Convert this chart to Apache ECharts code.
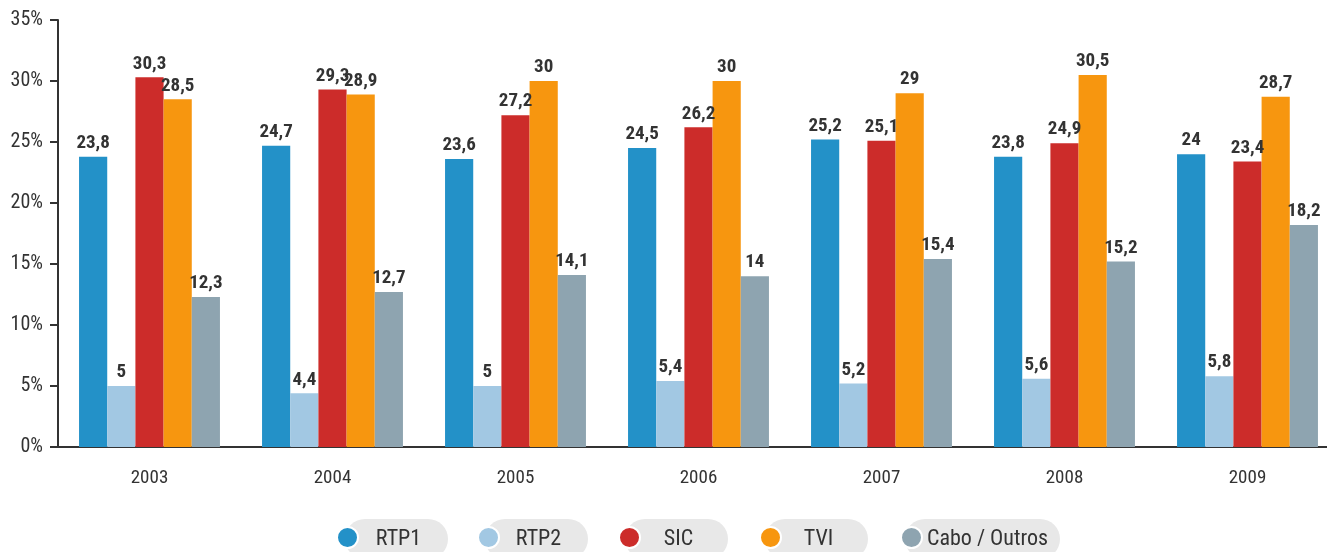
<!DOCTYPE html>
<html>
<head>
<meta charset="utf-8">
<script src="https://cdn.jsdelivr.net/npm/echarts@6/dist/echarts.min.js"></script>
<style>
  html, body { margin: 0; padding: 0; background: #fff; overflow: hidden; }
  /* slightly wider than the window: the x axis runs past the right edge */
  #main { width: 1339px; height: 552px; }
</style>
</head>
<body>
<div id="main"></div>
<script>
// audiencias por canal, % share
const anos = ['2003', '2004', '2005', '2006', '2007', '2008', '2009'];
const canais = ['RTP1', 'RTP2', 'SIC', 'TVI', 'Cabo / Outros'];
const rtp1 = [23.8, 24.7, 23.6, 24.5, 25.2, 23.8, 24];
const rtp2 = [5, 4.4, 5, 5.4, 5.2, 5.6, 5.8];
const sic = [30.3, 29.3, 27.2, 26.2, 25.1, 24.9, 23.4];
const tvi = [28.5, 28.9, 30, 30, 29, 30.5, 28.7];
const cabo = [12.3, 12.7, 14.1, 14, 15.4, 15.2, 18.2];
const yTicks = [0, 5, 10, 15, 20, 25, 30, 35];

const cores = ['#2391c8', '#a2c8e3', '#cc2c2a', '#f7960f', '#8ea4b0'];
const fonte = '"Roboto Condensed", "Open Sans", sans-serif';
const valores = [rtp1, rtp2, sic, tvi, cabo];

let myChart = echarts.init(document.getElementById('main'));

let series = [];
for (let i = 0; i < canais.length; i++) {
    series.push({
        name: canais[i],
        type: 'bar',
        data: valores[i],
        barGap: '0%',
        barCategoryGap: '23%',
        itemStyle: { color: cores[i] },
        label: {
            show: true,
            position: 'top',
            distance: 4,
            fontFamily: fonte,
            fontWeight: 'bold',
            fontSize: 19,
            color: '#333',
            formatter: function (p) { return String(p.value).replace('.', ','); }
        }
    });
}

// pill behind each legend name
let pill = {
    fontFamily: fonte, fontSize: 22, color: '#333',
    height: 24, lineHeight: 24, align: 'center',
    padding: [8, 8, 8, 12],
    backgroundColor: '#e8e8e8', borderRadius: 20
};

myChart.setOption({
    animation: false,
    color: cores,
    grid: { left: 58, right: 0, top: 20, bottom: 105 },
    legend: [
        {   // circles, drawn over the pills
            data: canais,
            left: 336,
            top: 526,
            padding: 0,
            z: 5,
            icon: 'circle',
            itemWidth: 21,
            itemHeight: 21,
            itemGap: 14,
            itemStyle: { borderColor: '#fff', borderWidth: 2 },
            formatter: function () { return '{s|-}'; },
            textStyle: {
                rich: {
                    s: { width: 100, height: 21, color: 'rgba(0,0,0,0)', backgroundColor: 'rgba(0,0,0,0)' }
                }
            }
        },
        {   // names in grey pills
            data: canais,
            left: 339,
            top: 519,
            padding: 0,
            z: 3,
            icon: 'none',
            itemWidth: 1,
            itemHeight: 1,
            itemGap: 31,
            formatter: function (name) {
                return name === 'Cabo / Outros' ? '{w|' + name + '}' : '{n|' + name + '}';
            },
            textStyle: {
                fontFamily: fonte,
                fontSize: 22,
                color: '#333',
                rich: {
                    n: Object.assign({}, pill, { width: 83 }),
                    w: Object.assign({}, pill, { width: 129, padding: [8, 8, 8, 18] })
                }
            }
        }
    ],
    xAxis: {
        type: 'category',
        data: anos,
        axisLine: { lineStyle: { color: '#333', width: 2 } },
        axisTick: { alignWithLabel: true, length: 13, lineStyle: { color: '#333', width: 2 } },
        axisLabel: { margin: 22, fontFamily: fonte, fontSize: 19, color: '#333' }
    },
    yAxis: {
        type: 'value',
        min: yTicks[0],
        max: yTicks[yTicks.length - 1],
        interval: 5,
        splitLine: { show: false },
        axisLine: { show: true, lineStyle: { color: '#333', width: 2 } },
        axisTick: { show: true, length: 8, lineStyle: { color: '#333', width: 2 } },
        axisLabel: { margin: 15, fontFamily: fonte, fontSize: 20, color: '#333', formatter: '{value}%' }
    },
    series: series
});
</script>
</body>
</html>
